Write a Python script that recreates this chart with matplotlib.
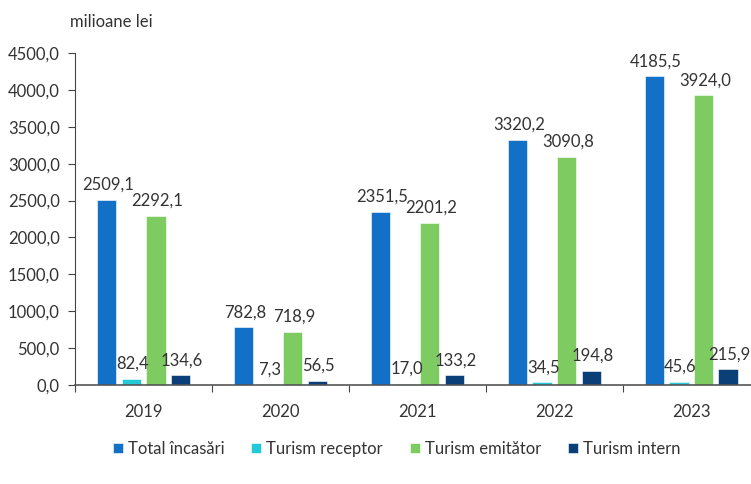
import matplotlib.pyplot as plt
import numpy as np

years = ["2019", "2020", "2021", "2022", "2023"]
series_names = ["Total încasări", "Turism receptor", "Turism emitător", "Turism intern"]
total = [2509.1, 782.8, 2351.5, 3320.2, 4185.5]
receptor = [82.4, 7.3, 17.0, 34.5, 45.6]
emitator = [2292.1, 718.9, 2201.2, 3090.8, 3924.0]
intern = [134.6, 56.5, 133.2, 194.8, 215.9]
yticks = [0, 500, 1000, 1500, 2000, 2500, 3000, 3500, 4000, 4500]

colors = ["#1270C6", "#22C9D6", "#7ECB62", "#0B3F78"]
values = [total, receptor, emitator, intern]

plt.rcParams["font.family"] = ["Lato", "DejaVu Sans"]
text_color = "#333333"
fs = 12

fig = plt.figure(figsize=(7.51, 4.84), dpi=100)
ax = fig.add_axes([0.0999, 0.2045, 0.912, 0.686])

x = np.arange(len(years))
pitch = 0.179
width = 0.142
offsets = (np.arange(4) - 1.5) * pitch

def fmt(v):
    return f"{v:.1f}".replace(".", ",")

for i, (name, vals, c) in enumerate(zip(series_names, values, colors)):
    pos = x + offsets[i]
    ax.bar(pos, vals, width=width, color=c, label=name, edgecolor="white", linewidth=0.4)
    for p, v in zip(pos, vals):
        ax.annotate(fmt(v), (p, v), xytext=(1, 5), textcoords="offset points",
                    ha="center", va="bottom", fontsize=fs, color=text_color,
                    annotation_clip=False)

ax.set_xlim(-0.5, 4.5)
ax.set_ylim(0, 4500)
ax.set_yticks(yticks)
ax.set_yticklabels([fmt(t) for t in yticks], fontsize=fs, color=text_color)
ax.set_xticks(np.arange(-0.5, 5.0, 1.0))
ax.set_xticklabels([])
ax.set_xticks(x, minor=True)
ax.set_xticklabels(years, minor=True, fontsize=fs, color=text_color)
ax.tick_params(axis="x", which="minor", length=0, pad=14)
ax.tick_params(axis="x", which="major", length=5, direction="out", color="#444444")
ax.tick_params(axis="y", length=5, direction="out", color="#444444", pad=6)

for s in ["top", "right"]:
    ax.spines[s].set_visible(False)
ax.spines["left"].set_color("#444444")
ax.spines["bottom"].set_color("#555555")
ax.spines["bottom"].set_linewidth(1.2)

fig.text(0.093, 0.955, "milioane lei", fontsize=fs, color=text_color, ha="left", va="center")

fig.legend(loc="center", bbox_to_anchor=(0.528, 0.073), ncol=4, frameon=False,
           fontsize=fs, handlelength=0.6, handleheight=0.6, handletextpad=0.3,
           columnspacing=1.6, labelcolor=text_color)

fig.savefig("out.png", dpi=100)
